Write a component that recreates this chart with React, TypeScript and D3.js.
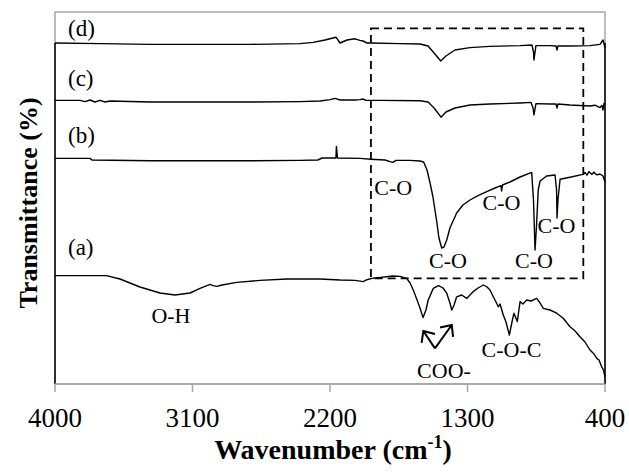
import React from "react";
import * as d3 from "d3";

// Wavenumber (cm-1), transmittance (arbitrary offset units)
const spectrumA: [number, number][] = [
  [4000, 27.1], [3836, 27.1], [3662, 27.1], [3575, 26.25], [3444, 24.25], [3313, 22.75], [3215, 22.25],
  [3116, 22.75], [3051, 23.9], [2985, 24.9], [2966, 24.6], [2940, 24.4], [2907, 24.75], [2811, 25.4],
  [2658, 25.9], [2483, 26.25], [2265, 26.25], [2134, 26], [2036, 25.9], [1982, 25.6], [1964, 26],
  [1925, 26.4], [1788, 27], [1742, 26.9], [1698, 26.4], [1676, 25.25], [1655, 23.5], [1630, 21],
  [1611, 19], [1591, 16.6], [1572, 18.5], [1557, 21], [1524, 23.9], [1490, 24.6], [1460, 24],
  [1436, 22.7], [1415, 20.25], [1403, 18.5], [1388, 19.75], [1371, 21.8], [1338, 22.25], [1305, 21.4],
  [1262, 23.1], [1231, 24], [1197, 24.75], [1172, 24.25], [1153, 23.5], [1140, 22.5], [1120, 21],
  [1098, 19.3], [1087, 20], [1066, 17.25], [1048, 15.5], [1026, 12.25], [1009, 15.5], [996, 17.7],
  [974, 15.6], [956, 20.6], [937, 20], [912, 21], [884, 20.75], [847, 21.4], [825, 20.25], [804, 18.9],
  [760, 18.5], [716, 17.7], [675, 16.5], [629, 14.3], [596, 13.25], [564, 11.8], [531, 10.5],
  [498, 8.5], [472, 7.5], [454, 6.4], [439, 6], [422, 4.3], [410, 3.5], [400, 1.75],
];

const spectrumB: [number, number][] = [
  [4000, 56.4], [3771, 56.4], [3758, 56], [3378, 55.8], [2724, 55.8], [2396, 55.9], [2279, 56],
  [2252, 56.5], [2167, 56.5], [2161, 56.5], [2158, 59.4], [2151, 56.5], [2004, 56.4], [1932, 56.2],
  [1840, 56], [1807, 55.6], [1788, 55.4], [1768, 55.9], [1676, 55.9], [1611, 55.75], [1587, 55.5],
  [1565, 53.5], [1545, 50.25], [1526, 46.75], [1500, 40.25], [1487, 36.5], [1469, 34], [1454, 34.25],
  [1436, 36], [1415, 39], [1371, 42.75], [1330, 44.75], [1284, 46], [1231, 47.1], [1174, 48.1],
  [1120, 49], [1081, 49.6], [1077, 48.25], [1071, 49.75], [1022, 50.5], [956, 51.75], [880, 52.9],
  [868, 46], [858, 33.5], [848, 39.75], [837, 48.5], [825, 50.75], [782, 52], [727, 52.25],
  [717, 48.5], [714, 41.5], [708, 46], [694, 51.2], [629, 51.7], [544, 52.4], [531, 52.9], [518, 52.2],
  [505, 53.1], [498, 52.8], [485, 52.4], [472, 53], [465, 52.6], [452, 52.3], [433, 52.5], [413, 52],
  [400, 50.5],
];

const spectrumC: [number, number][] = [
  [4000, 70.9], [3836, 70.9], [3804, 70.6], [3771, 71], [3738, 70.5], [3705, 70.9], [3673, 70.5],
  [3640, 70.75], [3378, 70.5], [2724, 70.5], [2396, 70.6], [2265, 70.75], [2200, 71.1], [2167, 71.4],
  [2134, 71], [2036, 71], [2004, 71.1], [1984, 71.25], [1964, 70.9], [1873, 70.9], [1611, 70.8],
  [1558, 70.5], [1519, 69], [1473, 66.7], [1441, 68], [1382, 69], [1284, 69.75], [1153, 70],
  [956, 70.25], [884, 70.4], [871, 69], [865, 67.25], [852, 70.1], [760, 70], [721, 70], [714, 69],
  [708, 70], [629, 69.75], [498, 69.5], [465, 69.7], [433, 69.1], [420, 69.6], [413, 68.5],
  [406, 70.2], [400, 69.75],
];

const spectrumD: [number, number][] = [
  [4000, 85.25], [3705, 85.1], [3378, 84.9], [3051, 84.9], [2724, 84.9], [2396, 85.1], [2311, 85.4],
  [2233, 86], [2161, 86.7], [2134, 85.25], [2089, 86], [2036, 86.3], [2004, 85.9], [1984, 85.75],
  [1958, 85.25], [1932, 85.25], [1742, 85.1], [1611, 85], [1558, 84.5], [1519, 82.75], [1475, 80.75],
  [1441, 82], [1382, 83.5], [1284, 84.1], [1153, 84.4], [956, 84.6], [878, 84.75], [868, 83],
  [865, 81], [852, 84.6], [760, 84.6], [721, 84.5], [714, 83.5], [708, 84.5], [629, 84.5],
  [498, 84.6], [433, 84.9], [413, 86], [406, 85], [400, 84],
];

const spectra = [spectrumA, spectrumB, spectrumC, spectrumD];

const xTicks = [4000, 3100, 2200, 1300, 400];

// label text, wavenumber, transmittance (baseline)
const sampleLabels: [string, number, number][] = [
  ["(d)", 3915, 87],
  ["(c)", 3915, 74.5],
  ["(b)", 3915, 60.25],
  ["(a)", 3915, 32.25],
];

const bandLabels: [string, number, number][] = [
  ["O-H", 3241, 15.25],
  ["C-O", 1786, 47.25],
  ["C-O", 1428, 28.9],
  ["C-O", 1077, 43.5],
  ["C-O", 865, 28.9],
  ["C-O", 717, 37.7],
  ["COO-", 1454, 1.5],
  ["C-O-C", 1012, 6.8],
];

// zoom box (wavenumber range, transmittance range)
const boxW = [1932, 542];
const boxT = [26.4, 88.9];

// COO- arrows: vertex and two tips
const arrowVertex: [number, number] = [1513, 8.9];
const arrowTips: [number, number][] = [
  [1589, 13.25],
  [1403, 14.75],
];

const W = 629;
const H = 474;
const LEFT = 55;
const RIGHT = 605;
const TOP = 12;
const BOTTOM = 384;

export default function App() {
  const x = d3.scaleLinear().domain([4000, 400]).range([LEFT, RIGHT]);
  const y = d3.scaleLinear().domain([0, 93]).range([BOTTOM, TOP]);
  const line = d3
    .line<[number, number]>()
    .x((d) => x(d[0]))
    .y((d) => y(d[1]));

  const serif = "'Times New Roman', 'Liberation Serif', serif";

  const arrowPaths = arrowTips.map((tip) => {
    const vx = x(arrowVertex[0]);
    const vy = y(arrowVertex[1]);
    const tx = x(tip[0]);
    const ty = y(tip[1]);
    const ang = Math.atan2(vy - ty, vx - tx);
    const len = 12;
    const a1 = ang + (42 * Math.PI) / 180;
    const a2 = ang - (42 * Math.PI) / 180;
    return `M${vx},${vy}L${tx},${ty}M${tx + len * Math.cos(a1)},${ty + len * Math.sin(a1)}L${tx},${ty}L${tx + len * Math.cos(a2)},${ty + len * Math.sin(a2)}`;
  });

  return (
    <svg
      width={W}
      height={H}
      style={{ position: "absolute", left: 0, top: 0, background: "#fff" }}
      fontFamily={serif}
    >
      <rect x={0} y={0} width={W} height={H} fill="#fff" />
      {/* plot area border */}
      <rect
        x={LEFT}
        y={TOP}
        width={RIGHT - LEFT}
        height={BOTTOM - TOP}
        fill="none"
        stroke="#a6a6a6"
        strokeWidth={1.5}
      />
      {/* dark side lines */}
      <line x1={LEFT} x2={LEFT} y1={y(85.25)} y2={BOTTOM} stroke="#000" strokeWidth={1.5} />
      <line x1={RIGHT} x2={RIGHT} y1={y(85.25)} y2={BOTTOM} stroke="#000" strokeWidth={1.5} />
      {/* x axis */}
      <line x1={LEFT} x2={RIGHT} y1={BOTTOM} y2={BOTTOM} stroke="#a6a6a6" strokeWidth={1.5} />
      {xTicks.map((t) => (
        <g key={t}>
          <line x1={x(t)} x2={x(t)} y1={BOTTOM} y2={BOTTOM + 8} stroke="#a6a6a6" strokeWidth={1.5} />
          <text x={x(t)} y={427} fontSize={27} textAnchor="middle" fill="#000">
            {t}
          </text>
        </g>
      ))}
      {/* spectra */}
      {spectra.map((s, i) => (
        <path key={i} d={line(s) || ""} fill="none" stroke="#000" strokeWidth={1.4} strokeLinejoin="round" />
      ))}
      {/* dashed box */}
      <rect
        x={x(boxW[0])}
        y={y(boxT[1])}
        width={x(boxW[1]) - x(boxW[0])}
        height={y(boxT[0]) - y(boxT[1])}
        fill="none"
        stroke="#000"
        strokeWidth={1.8}
        strokeDasharray="8,5"
      />
      {/* arrows */}
      {arrowPaths.map((p, i) => (
        <path key={i} d={p} fill="none" stroke="#000" strokeWidth={2} />
      ))}
      {/* labels */}
      {sampleLabels.map(([t, w, v], i) => (
        <text key={i} x={x(w)} y={y(v)} fontSize={23} fill="#000">
          {t}
        </text>
      ))}
      {bandLabels.map(([t, w, v], i) => (
        <text key={i} x={x(w)} y={y(v)} fontSize={22} textAnchor="middle" fill="#000">
          {t}
        </text>
      ))}
      {/* axis titles */}
      <text x={333} y={459} fontSize={28} fontWeight="bold" textAnchor="middle" fill="#000">
        Wavenumber (cm
        <tspan fontSize={18} dy={-11}>
          -1
        </tspan>
        <tspan dy={11}>)</tspan>
      </text>
      <text
        transform="translate(37,203) rotate(-90)"
        fontSize={26}
        fontWeight="bold"
        textAnchor="middle"
        fill="#000"
      >
        Transmittance (%)
      </text>
    </svg>
  );
}
